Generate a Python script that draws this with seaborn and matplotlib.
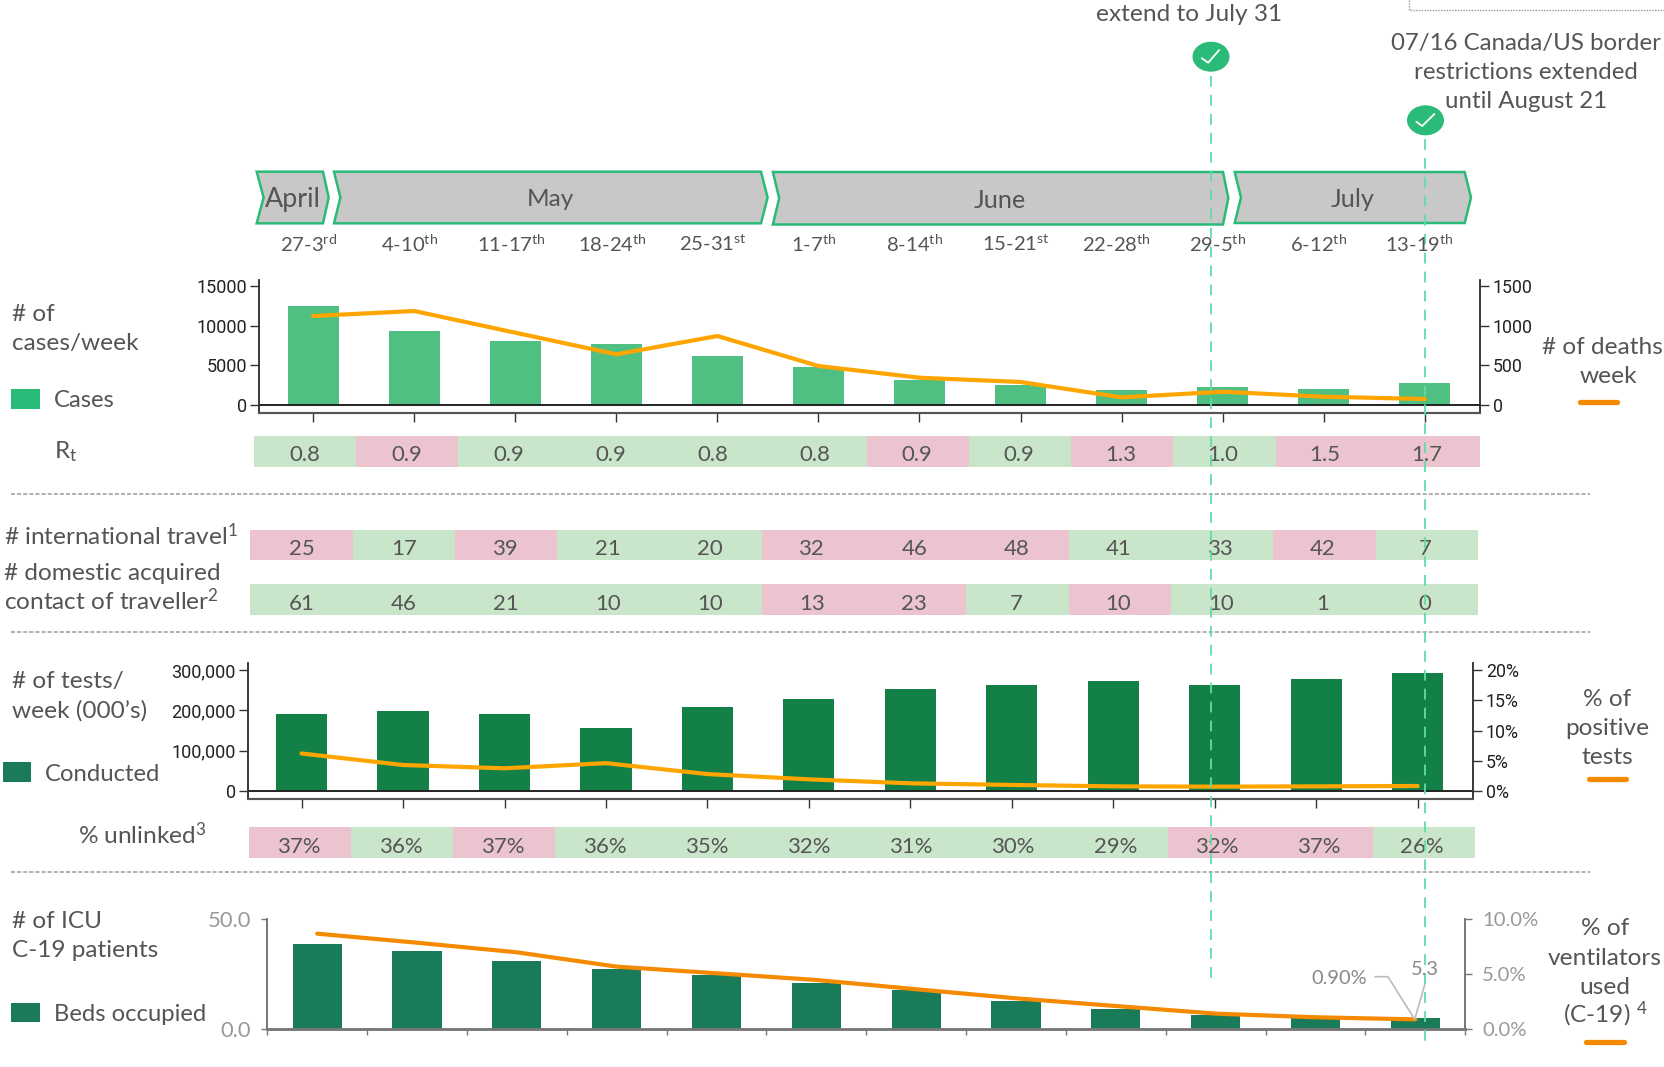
import numpy as np
import matplotlib
matplotlib.use("Agg")
import matplotlib.pyplot as plt
import seaborn as sns
from matplotlib.colors import ListedColormap
from matplotlib.patches import Polygon, Ellipse, Rectangle

# ---------- data ----------
week_labels = ["27-3$\\mathregular{^{rd}}$", "4-10$\\mathregular{^{th}}$", "11-17$\\mathregular{^{th}}$",
               "18-24$\\mathregular{^{th}}$", "25-31$\\mathregular{^{st}}$", "1-7$\\mathregular{^{th}}$",
               "8-14$\\mathregular{^{th}}$", "15-21$\\mathregular{^{st}}$", "22-28$\\mathregular{^{th}}$",
               "29-5$\\mathregular{^{th}}$", "6-12$\\mathregular{^{th}}$", "13-19$\\mathregular{^{th}}$"]
weeks = list(range(12))
cases = [12510, 9310, 8090, 7630, 6190, 4720, 3080, 2490, 1860, 2200, 2020, 2700]
deaths = [1121, 1184, 910, 637, 868, 489, 341, 287, 93, 164, 101, 72]
rt = ["0.8", "0.9", "0.9", "0.9", "0.8", "0.8", "0.9", "0.9", "1.3", "1.0", "1.5", "1.7"]
rt_flag = [0, 1, 0, 0, 0, 0, 1, 0, 1, 0, 1, 1]
intl = ["25", "17", "39", "21", "20", "32", "46", "48", "41", "33", "42", "7"]
intl_flag = [1, 0, 1, 0, 0, 1, 1, 1, 0, 0, 1, 0]
domestic = ["61", "46", "21", "10", "10", "13", "23", "7", "10", "10", "1", "0"]
domestic_flag = [0, 0, 0, 0, 0, 1, 1, 0, 1, 0, 0, 0]
tests = [190000, 199000, 191000, 155500, 209000, 229000, 253700, 262000, 271900, 263600, 277700, 292500]
positive = [6.2, 4.3, 3.75, 4.6, 2.8, 1.93, 1.27, 1.0, 0.77, 0.72, 0.77, 0.83]
unlinked = ["37%", "36%", "37%", "36%", "35%", "32%", "31%", "30%", "29%", "32%", "37%", "26%"]
unlinked_flag = [1, 0, 1, 0, 0, 0, 0, 0, 0, 1, 1, 0]
icu = [38.8, 35.6, 30.8, 27.2, 24.6, 21.0, 17.8, 12.8, 9.4, 6.3, 4.9, 5.3]
vent = [8.67, 7.85, 6.98, 5.68, 5.08, 4.47, 3.63, 2.81, 2.11, 1.42, 1.09, 0.90]
months = ["April", "May", "June", "July"]

W, H = 1665, 1067
TXT = "#555555"
MAINFONT = ["Lato", "DejaVu Sans"]
NARROW = ["Roboto", "DejaVu Sans"]
BASE = 17.6
GOOD, BAD = "#C9E6CB", "#EBC4CF"
ORANGE, ORANGE2 = "#FFA500", "#F58A00"
EDGE = "#2BBB78"

sns.set_theme(style="white")
plt.rcParams["font.family"] = MAINFONT
plt.rcParams["mathtext.default"] = "regular"
fig = plt.figure(figsize=(W / 100, H / 100), dpi=100, facecolor="white")


def rect(l, t, r, b):
    return [l / W, 1 - b / H, (r - l) / W, (b - t) / H]


def chart(l, t, r, b, first, step, width, bars, bar_color, line, line_color,
          ylim_l, ylim_r, yt_l, ytl_l, yt_r, ytl_r):
    ax = fig.add_axes(rect(l, t, r, b))
    sns.barplot(x=weeks, y=bars, ax=ax, color=bar_color, saturation=1, width=width, linewidth=0)
    tw = ax.twinx()
    sns.lineplot(x=weeks, y=line, ax=tw, color=line_color, linewidth=3, errorbar=None)
    ax.set_xlim((l - first) / step, (r - first) / step)
    ax.set_ylim(*ylim_l)
    tw.set_ylim(*ylim_r)
    ax.set_xticks(weeks)
    ax.set_xticklabels([])
    ax.set_yticks(yt_l)
    ax.set_yticklabels(ytl_l, family=NARROW, fontsize=13, color="#222222")
    tw.set_yticks(yt_r)
    tw.set_yticklabels(ytl_r, family=NARROW, fontsize=12.8, color="#222222")
    ax.set_xlabel(""); ax.set_ylabel(""); tw.set_xlabel(""); tw.set_ylabel("")
    for a in (ax, tw):
        a.spines["top"].set_visible(False)
        for s in ("left", "right", "bottom"):
            a.spines[s].set_visible(True)
            a.spines[s].set_color("#333333")
            a.spines[s].set_linewidth(1.1)
        a.spines["bottom"].set_linewidth(1.5)
        a.spines["bottom"].set_color("#555555")
    ax.tick_params(axis="x", bottom=True, length=6.5, width=1, color="#333333")
    ax.tick_params(axis="y", left=True, length=6.5, width=1, color="#333333", pad=2.5)
    tw.tick_params(axis="y", right=True, length=6.5, width=1, color="#333333", pad=3)
    ax.axhline(0, color="#222222", lw=1.4, zorder=5)
    return ax, tw


# cases / deaths
px = 15000 / (404.7 - 286)
chart(259.4, 280, 1479.6, 412.7, 313.2, 101.05, 0.504, cases, "#4FBF82", deaths, ORANGE,
      (-(412.7 - 404.7) * px, (404.7 - 280) * px), (-(412.7 - 404.7) * px / 10, (404.7 - 280) * px / 10),
      [0, 5000, 10000, 15000], ["0", "5000", "10000", "15000"],
      [0, 500, 1000, 1500], ["0", "500", "1000", "1500"])

# tests / positivity
px2 = 300000 / 121
chart(248.3, 663, 1472.7, 799.3, 301.6, 101.46, 0.504, tests, "#138047", positive, ORANGE,
      (-(799.3 - 791) * px2, (791 - 663) * px2), (-(799.3 - 791) * px2 / 15000, (791 - 663) * px2 / 15000),
      [0, 100000, 200000, 300000], ["0", "100,000", "200,000", "300,000"],
      [0, 5, 10, 15, 20], ["0%", "5%", "10%", "15%", "20%"])

# ICU / ventilators
ax3 = fig.add_axes(rect(267.3, 919, 1465.3, 1029.3))
sns.barplot(x=weeks, y=icu, ax=ax3, color="#1A7B58", saturation=1, width=0.493, linewidth=0)
tw3 = ax3.twinx()
sns.lineplot(x=weeks, y=vent, ax=tw3, color=ORANGE2, linewidth=3, errorbar=None)
ax3.set_xlim(-0.5, 11.5)
ax3.set_ylim(0, 50)
tw3.set_ylim(0, 10)
ax3.set_xticks(np.arange(-0.5, 12, 1))
ax3.set_xticklabels([])
ax3.set_yticks([0, 50])
ax3.set_yticklabels(["0.0", "50.0"], color="#999999", fontsize=15.8)
tw3.set_yticks([0, 5, 10])
tw3.set_yticklabels(["0.0%", "5.0%", "10.0%"], color="#999999", fontsize=14.6)
ax3.set_xlabel(""); ax3.set_ylabel(""); tw3.set_xlabel(""); tw3.set_ylabel("")
for a in (ax3, tw3):
    a.spines["top"].set_visible(False)
    for s in ("left", "right", "bottom"):
        a.spines[s].set_visible(True)
        a.spines[s].set_color("#777777")
        a.spines[s].set_linewidth(1.2)
    a.spines["bottom"].set_linewidth(1.8)
ax3.tick_params(axis="x", bottom=True, length=4.5, width=1, color="#777777")
ax3.tick_params(axis="y", left=True, length=4.5, width=1, color="#777777", pad=7)
tw3.tick_params(axis="y", right=True, length=5, width=1, color="#777777", pad=7)


def strip(l, t, r, b, labels, flags):
    ax = fig.add_axes(rect(l, t, r, b))
    sns.heatmap(np.array([flags]), ax=ax, cmap=ListedColormap([GOOD, BAD]), vmin=0, vmax=1, cbar=False,
                annot=np.array([labels]), fmt="", xticklabels=False, yticklabels=False,
                annot_kws={"color": TXT, "fontsize": 15.9})
    for i, t_ in enumerate(ax.texts):
        t_.set_position((t_.get_position()[0] - 0.02 * i / 11, 0.63))
        t_.set_color(TXT)
    return ax


strip(254, 436, 1480, 466.7, rt, rt_flag)
strip(250.4, 530, 1478, 560, intl, intl_flag)
strip(250.4, 584, 1478, 615, domestic, domestic_flag)
strip(248.8, 827, 1474.8, 858, unlinked, unlinked_flag)

# ---------- overlay in pixel coordinates ----------
ov = fig.add_axes([0, 0, 1, 1], zorder=20)
ov.set_xlim(0, W)
ov.set_ylim(H, 0)
ov.axis("off")
ov.patch.set_alpha(0)


def txt(x, y, s, ha="center", size=BASE, color=TXT, **kw):
    ov.text(x, y + 1.5, s, ha=ha, va="center", fontsize=size, color=color, **kw)


# chevrons
chevrons = [(256.7, 263.6, 323, 328.7, 171.7, 223.3, 292.7),
            (334, 340.4, 761, 767.6, 171.7, 223.3, 550.6),
            (772.9, 779.2, 1223, 1228.3, 172, 224.5, 999.9),
            (1234.7, 1241, 1464.7, 1471, 172, 223, 1352.4)]
for name, (a, n, c, d, t, b, tx), sz in zip(months, chevrons, [19.4, 17.6, 18.2, 18.2]):
    m = (t + b) / 2
    ov.add_patch(Polygon([(a, t), (c, t), (d, m), (c, b), (a, b), (n, m)], closed=True,
                         facecolor="#C8C8C8", edgecolor=EDGE, linewidth=1.8, joinstyle="miter"))
    txt(tx, m + 0.7, name, size=sz)

week_x = [308.6, 410, 511, 612.5, 712.6, 814, 915, 1016.4, 1116.5, 1217.6, 1318.8, 1419.3]
for x, s in zip(week_x, week_labels):
    txt(x, 242.5, s, size=14.6)

# dashed separators
for y in (494.3, 632.3, 871.7):
    ov.plot([10.6, 1590], [y, y], color="#999999", lw=1.1, dashes=(2.6, 1.4))

# left labels
txt(11.6, 312.7, "# of", ha="left")
txt(11.6, 342, "cases/week", ha="left")
txt(53.5, 399.3, "Cases", ha="left", size=17.2)
txt(54, 450, "R$_{t}$", ha="left")
txt(4, 534, "# international travel$^{1}$", ha="left")
txt(4, 572.3, "# domestic acquired", ha="left")
txt(4, 599, "contact of traveller$^{2}$", ha="left")
txt(12, 680, "# of tests/", ha="left")
txt(12, 709.3, "week (000\u2019s)", ha="left")
txt(45, 772.7, "Conducted", ha="left", size=17.2)
txt(78.4, 833, "% unlinked$^{3}$", ha="left")
txt(11.6, 920, "# of ICU", ha="left")
txt(11.6, 949.3, "C-19 patients", ha="left")
txt(54, 1012.7, "Beds occupied", ha="left", size=17.2)

# legend swatches
for (l, t, r, b, c) in [(11, 389, 40, 408.7, EDGE), (2.6, 762.3, 31.2, 781.7, "#1B7B58"), (11, 1002.7, 40, 1021.7, "#1B7B58")]:
    ov.add_patch(Rectangle((l, t), r - l, b - t, facecolor=c, edgecolor="none"))
for (l, r, y) in [(1579.6, 1617, 401.7), (1588.7, 1626.2, 778.7), (1586.5, 1624, 1041.7)]:
    ov.plot([l, r], [y, y], color=ORANGE2, lw=3.8, solid_capstyle="round")

# right labels
txt(1602, 345.7, "# of deaths")
txt(1608.5, 375, "week")
txt(1606.9, 698.3, "% of")
txt(1606.9, 727.3, "positive")
txt(1606.9, 756, "tests")
txt(1604.8, 926.7, "% of")
txt(1604.8, 956.7, "ventilators")
txt(1604.8, 985.7, "used")
txt(1604.8, 1013, "(C-19) $^{4}$")

# annotations
txt(1189.4, 13.3, "extend to July 31")
txt(1526, 41.7, "07/16 Canada/US border", size=17.3)
txt(1526, 71, "restrictions extended", size=17.3)
txt(1526, 100, "until August 21", size=17.3)
ov.plot([1408.8, 1408.8, 1665], [0, 10.3, 10.3], color="#999999", lw=1, ls=(0, (1, 1)))

txt(1339.6, 977.3, "0.90%", color="#888888", size=14.4)
txt(1425.3, 968.3, "5.3", color="#888888", size=14.4)
ov.plot([1375, 1388, 1414.7, 1425.3], [976.7, 976.7, 1019.3, 982.7], color="#BBBBBB", lw=1.2)

# event lines
LINEC = "#5FDDA5"
for (x, y0, y1, check) in [(1211, 56.7, 978, [(1201.9, 58.3), (1208.2, 62.7), (1219.2, 50)]),
                           (1425.5, 120.3, 1041.7, [(1416.3, 121.7), (1422.2, 126), (1434.4, 114)])]:
    ov.plot([x, x], [y0, y1], color=LINEC, lw=1.3, dashes=(6, 4.5))
    ov.add_patch(Ellipse((x, y0), 37, 30, facecolor=EDGE, edgecolor="none", zorder=5))
    cx, cy = zip(*check)
    ov.plot(cx, cy, color="white", lw=1.3, zorder=6)

fig.savefig("out.png", dpi=100)
